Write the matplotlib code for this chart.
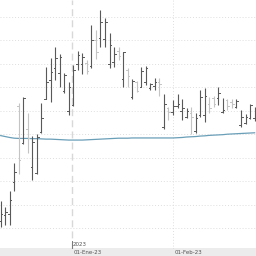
import matplotlib
matplotlib.use("Agg")
import matplotlib.pyplot as plt
from matplotlib.patches import Rectangle

highs = [21.6, 19.0, 25.8, 37.7, 63.3, 65.8, 59.0, 49.2, 50.1, 63.3,
         78.6, 82.4, 87.1, 84.1, 76.0, 72.2, 79.4, 85.4, 84.5, 81.6,
         96.5, 94.3, 102.8, 99.4, 93.1, 87.1, 87.1, 85.0, 78.2, 73.5,
         72.6, 78.6, 79.0, 71.8, 73.9, 73.9, 67.1, 61.6, 64.6, 67.1,
         65.0, 61.2, 61.6, 59.0, 68.8, 69.7, 65.8, 66.3, 70.1, 65.4,
         65.0, 65.0, 65.0, 60.3, 58.6, 62.9, 61.6]
lows = [10.5, 11.4, 11.4, 25.8, 33.1, 45.8, 42.0, 30.5, 33.1, 50.5,
        65.0, 63.7, 73.1, 70.1, 67.5, 58.2, 62.0, 77.3, 75.6, 75.6,
        78.2, 82.0, 87.1, 87.1, 78.2, 78.6, 81.6, 70.1, 70.1, 65.0,
        68.0, 70.1, 70.9, 68.8, 68.8, 66.3, 52.2, 56.0, 58.2, 61.2,
        56.0, 56.9, 50.1, 50.5, 57.3, 55.2, 59.0, 61.6, 62.4, 59.0,
        60.3, 61.2, 61.2, 53.1, 54.3, 56.5, 55.6]
opens = [13.0, 15.6, 16.0, 29.7, 62.0, 46.3, 52.0, 36.0, 33.5, 51.0,
         65.0, 73.1, 78.0, 76.0, 68.5, 60.0, 62.4, 79.9, 79.9, 80.3,
         79.0, 90.1, 90.9, 90.5, 79.9, 80.7, 85.5, 73.5, 77.5, 66.0,
         72.0, 70.1, 72.0, 69.5, 70.5, 72.0, 53.0, 61.0, 59.4, 62.0,
         60.0, 57.5, 59.0, 51.5, 58.0, 58.0, 62.9, 65.4, 65.4, 59.5,
         64.6, 63.5, 61.6, 54.0, 54.8, 57.0, 57.0]
closes = [16.0, 17.0, 22.0, 34.0, 39.0, 65.4, 48.4, 46.7, 49.0, 56.9,
          72.2, 76.5, 82.4, 82.8, 75.2, 70.1, 77.3, 83.7, 82.8, 77.0,
          90.1, 85.0, 97.7, 97.7, 88.0, 84.0, 83.3, 85.0, 74.8, 72.6,
          68.4, 77.0, 78.2, 71.4, 72.0, 71.4, 62.9, 59.4, 62.0, 62.9,
          61.2, 59.9, 57.3, 56.9, 65.8, 66.3, 61.0, 63.0, 67.5, 60.3,
          62.0, 62.9, 64.0, 57.3, 57.5, 62.4, 59.4]
moving_avg = [49.4, 49.0, 48.6, 48.3, 48.2, 48.2, 48.2, 48.1, 48.1, 48.0,
              47.9, 47.9, 47.8, 47.7, 47.6, 47.5, 47.5, 47.5, 47.5, 47.6,
              47.7, 47.8, 47.9, 48.0, 48.1, 48.2, 48.3, 48.3, 48.3, 48.4,
              48.4, 48.4, 48.4, 48.4, 48.4, 48.4, 48.4, 48.4, 48.4, 48.5,
              48.6, 48.8, 48.9, 49.0, 49.2, 49.3, 49.5, 49.6, 49.7, 49.8,
              50.0, 50.1, 50.2, 50.3, 50.4, 50.5, 50.6]
date_ticks = [15.73, 38.0]
date_labels = ["01-Ene-23", "01-Feb-23"]
year_label = "2023"

fig = plt.figure(figsize=(2.56, 2.56), dpi=100, facecolor="white")
fig.patches.append(Rectangle((0, 0), 1, 7 / 256, transform=fig.transFigure,
                             facecolor="#ececec", edgecolor="none", zorder=0))
ax = fig.add_axes([0, 7 / 256, 1, 249 / 256])
ax.set_facecolor("white")
ax.set_xlim(-0.15, 56.3)
ax.set_ylim(1.15, 107.1)

for s in ["top", "left", "right"]:
    ax.spines[s].set_visible(False)
ax.spines["bottom"].set_color("#a0a0a0")
ax.spines["bottom"].set_linewidth(1.0)

ax.set_yticks(range(10, 101, 10))
ax.set_yticklabels([])
ax.set_xticks([])
ax.tick_params(length=0)
ax.grid(axis="y", color="#dedede", linestyle=(0, (1, 2)), linewidth=0.7)

ax.axvline(date_ticks[0], color="#d8d8d8", linestyle=(0, (5, 3)), linewidth=1.0, zorder=0)
ax.axvline(date_ticks[1], color="#dedede", linestyle=(0, (1, 2)), linewidth=0.7, zorder=0)

ax.plot(range(len(moving_avg)), moving_avg, color="#6a9fb8", linewidth=0.9, zorder=2)

tw = 0.35
for i, (h, l, o, c) in enumerate(zip(highs, lows, opens, closes)):
    col = "#595959" if c >= o else "#c4c4c4"
    ax.plot([i, i], [l, h], color=col, linewidth=0.8, solid_capstyle="butt", zorder=3)
    ax.plot([i - tw, i], [o, o], color=col, linewidth=0.7, zorder=3)
    ax.plot([i, i + tw], [c, c], color=col, linewidth=0.7, zorder=3)

ax.plot([date_ticks[0], date_ticks[0]], [4.5, -1.5], color="#777777", linewidth=0.7, clip_on=False)
ax.text(date_ticks[0] + 0.15, 2.0, year_label, fontsize=4.0, color="#555555",
        ha="left", va="bottom")
for t, lab in zip(date_ticks, date_labels):
    xf = ax.transData.transform((t, 0))[0] / fig.bbox.width
    fig.text(xf + 1.5 / 256, 3.3 / 256, lab, fontsize=4.0, color="#555555",
             ha="left", va="center")

fig.savefig("out.png", dpi=100, facecolor="white")
